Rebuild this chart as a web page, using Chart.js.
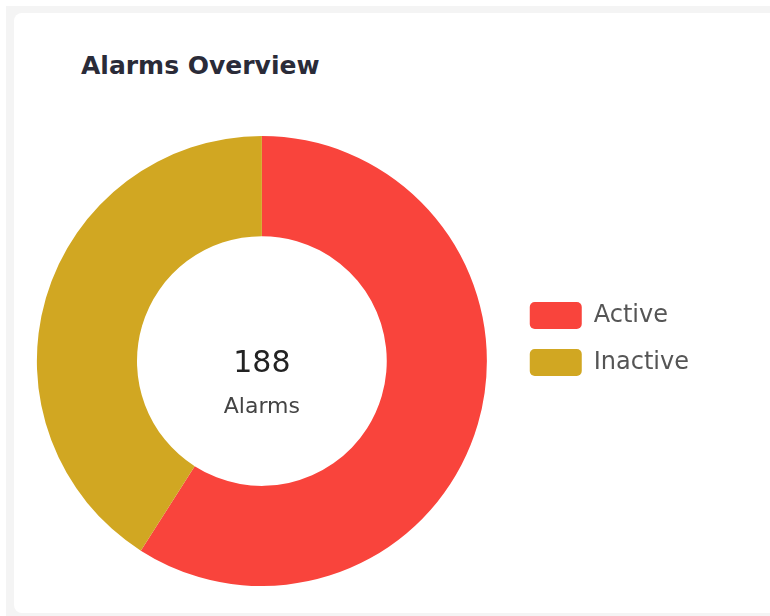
<!DOCTYPE html>
<html>
<head>
<meta charset="utf-8">
<script src="https://cdn.jsdelivr.net/npm/chart.js@4.4.1/dist/chart.umd.min.js"></script>
<style>
  html, body { margin: 0; padding: 0; background: #fff; overflow: hidden; }
  #panel { position: absolute; left: 6px; top: 6px; width: 800px; height: 620px; background: #f4f4f4; }
  #card { position: absolute; left: 14px; top: 13px; width: 790px; height: 600px; background: #fff; border-radius: 8px; }
  #title { position: absolute; left: 81px; top: 52px; font: bold 25px "DejaVu Sans", sans-serif; color: #2a2b38; line-height: 28px; }
  #wrap { position: absolute; left: 14px; top: 136px; width: 700px; height: 450px; }
</style>
</head>
<body>
<div id="panel"></div>
<div id="card"></div>
<div id="title">Alarms Overview</div>
<div id="wrap"><canvas id="alarms"></canvas></div>
<script>
var labels = ['Active', 'Inactive']
var counts = [111, 77]
var colors = ['#F9443C', '#D1A722']
var centerLabel = 'Alarms'

var total = counts.reduce(function(a, b){ return a + b }, 0)

// draws the total in the hole
var centerText = {
  id: 'centerText',
  afterDatasetsDraw: function(chart){
    var arc = chart.getDatasetMeta(0).data[0]
    var ctx = chart.ctx
    ctx.save()
    ctx.textAlign = 'center'
    ctx.textBaseline = 'alphabetic'
    ctx.fillStyle = '#222'
    ctx.font = '30px "DejaVu Sans", sans-serif'
    ctx.fillText(String(total), arc.x, arc.y + 11)
    ctx.fillStyle = '#444'
    ctx.font = '22px "DejaVu Sans", sans-serif'
    ctx.fillText(centerLabel, arc.x, arc.y + 52)
    ctx.restore()
  }
}

const chartInstance = new Chart(document.getElementById('alarms'), {
  type: 'doughnut',
  data: {
    labels: labels,
    datasets: [{
      data: counts,
      backgroundColor: colors,
      borderWidth: 0
    }]
  },
  plugins: [centerText],
  options: {
    responsive: true,
    maintainAspectRatio: false,
    animation: false,
    cutout: '55.5%',
    layout: { padding: { right: 15 } },
    plugins: {
      legend: {
        position: 'right',
        align: 'start',
        title: { display: true, text: '', font: { size: 10, lineHeight: 1 }, padding: { top: 136, bottom: 0 } },
        labels: {
          boxWidth: 52,
          boxHeight: 27,
          padding: 20,
          color: '#555',
          font: { family: '"DejaVu Sans", sans-serif', size: 24 },
          generateLabels: function(chart){
            return chart.data.labels.map(function(l, i){
              return { text: l, fillStyle: colors[i], strokeStyle: colors[i], lineWidth: 0, borderRadius: 5, index: i, hidden: false, fontColor: '#555' }
            })
          }
        }
      },
      tooltip: { enabled: false }
    }
  }
})
</script>
</body>
</html>
